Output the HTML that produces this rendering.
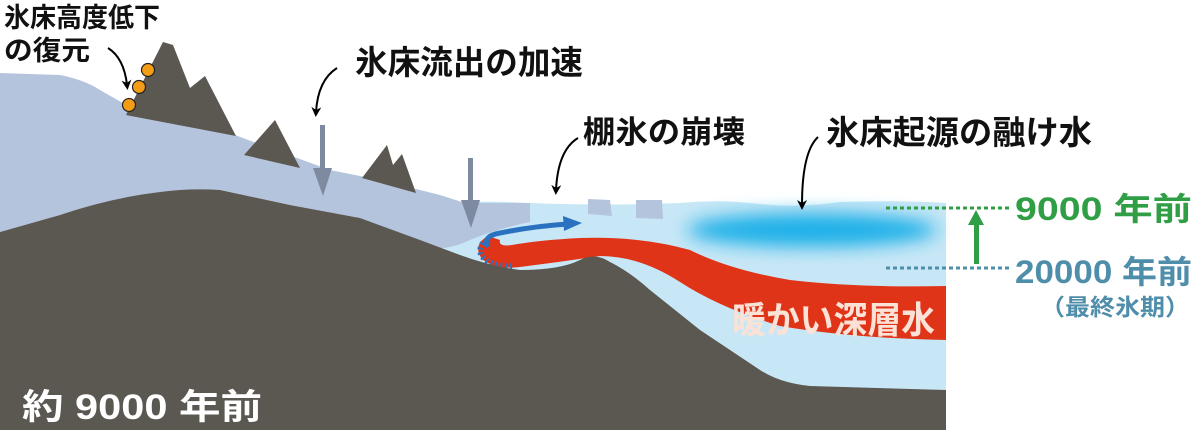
<!DOCTYPE html>
<html><head><meta charset="utf-8"><style>
html,body{margin:0;padding:0;background:#fff;}
svg{display:block;}
text{font-family:"Liberation Sans","Noto Sans CJK JP",sans-serif;font-weight:bold;}
</style></head><body>
<svg width="1200" height="430" viewBox="0 0 1200 430" xmlns="http://www.w3.org/2000/svg">
<defs>
<filter id="blur" x="-30%" y="-100%" width="160%" height="300%"><feGaussianBlur stdDeviation="9"/></filter>
<marker id="ah" markerWidth="10" markerHeight="10" refX="5" refY="5" orient="auto" markerUnits="userSpaceOnUse"><path d="M0,0 L10,5 L0,10 L3,5 Z" fill="#000"/></marker>
</defs>
<!-- ocean -->
<path d="M430,203 Q480,200 530,203 Q600,206 680,203 Q720,199 760,204 Q800,208 840,202 Q900,200 946,203 L946,400 L430,400 Z" fill="#c8e7f6"/>
<ellipse cx="812" cy="230" rx="125" ry="17" fill="#1fb0e8" filter="url(#blur)"/>
<!-- ice sheet -->
<path d="M0,73 L60,75 Q85,80 100,90 L135,110 L235,135 L275,150 L330,170 L380,180 L440,195 L465,203 L530,203 L530,222 Q500,228 470,240 Q450,250 430,248 L360,218 L290,205 L220,190 L160,192 L60,215 L0,232 Z" fill="#b5c4dd"/>
<path d="M588,199 L610,200 L612,216 L588,214 Z" fill="#b5c4dd"/>
<path d="M636,200 L662,200 L663,219 L636,218 Z" fill="#b5c4dd"/>
<!-- red warm water -->
<path d="M488,236 Q472,245 482,259 Q495,270 520,267 Q560,262 600,256 Q640,256 680,282 Q720,308 780,326 Q850,338 946,340 L946,286 Q860,288 790,280 Q730,270 690,250 Q640,236 580,238 Q540,240 512,245 Q498,247 500,240 Z" fill="#e03418"/>
<path d="M483,243 Q476,253 487,261 Q500,268 515,266" stroke="#2a72c0" stroke-width="6" fill="none" stroke-dasharray="2 3"/>
<path d="M488,247 Q482,236 500,233 Q535,226 568,224" stroke="#2a72c0" stroke-width="5" fill="none"/>
<path d="M563,216 L582,223 L564,231 Z" fill="#2a72c0"/>
<!-- bedrock -->
<path d="M0,232 L60,215 Q110,198 160,192 Q190,188 220,190 L290,205 L360,218 L420,240 L460,255 Q490,266 520,270 Q560,270 580,260 Q595,252 610,262 Q630,272 650,290 L700,330 L760,370 Q780,383 810,386 L946,390 L946,430 L0,430 Z" fill="#5b5851"/>
<!-- mountains -->
<path d="M126,115 L163,42 L173,45 L190,88 L205,76 L236,136 Z" fill="#5b5851"/>
<path d="M244,155 L275,120 L300,168 Z" fill="#5b5851"/>
<path d="M362,178 L387,145 L393,165 L402,154 L416,193 Z" fill="#5b5851"/>
<g fill="#f39c16" stroke="#222" stroke-width="1.2">
<circle cx="148" cy="70" r="6.5"/><circle cx="139" cy="87" r="6.5"/><circle cx="129" cy="105" r="6.5"/>
</g>
<rect x="320" y="125" width="5" height="45" fill="#7d8aa0"/><path d="M313,168 L332,168 L323,196 Z" fill="#7d8aa0"/>
<rect x="468" y="158" width="5" height="45" fill="#7d8aa0"/><path d="M461,200 L480,200 L471,228 Z" fill="#7d8aa0"/>
<g stroke="#000" stroke-width="2" fill="none" marker-end="url(#ah)">
<path d="M108,48 Q124,58 127,85"/>
<path d="M337,68 Q318,80 316,112"/>
<path d="M578,138 Q558,150 556,190"/>
<path d="M818,137 Q802,152 802,205"/>
</g>
<line x1="886" y1="208" x2="1012" y2="208" stroke="#2f9e45" stroke-width="3" stroke-dasharray="4 3"/>
<line x1="886" y1="268" x2="1012" y2="268" stroke="#4f8eaa" stroke-width="3" stroke-dasharray="4 3"/>
<rect x="974" y="222" width="5" height="42" fill="#2f9e45"/><path d="M968,225 L976,210 L984,225 Z" fill="#2f9e45"/>
<!-- labels -->
<text x="4" y="27" font-size="27" fill="#111" textLength="156" lengthAdjust="spacingAndGlyphs">氷床高度低下</text>
<text x="4" y="60" font-size="27" fill="#111" textLength="86" lengthAdjust="spacingAndGlyphs">の復元</text>
<text x="355" y="74" font-size="33" fill="#111" textLength="228" lengthAdjust="spacingAndGlyphs">氷床流出の加速</text>
<text x="583" y="143" font-size="31" fill="#111" textLength="162" lengthAdjust="spacingAndGlyphs">棚氷の崩壊</text>
<text x="826" y="144" font-size="33" fill="#111" textLength="266" lengthAdjust="spacingAndGlyphs">氷床起源の融け水</text>
<text x="1015" y="220" font-size="32" fill="#2f9e45" textLength="177" lengthAdjust="spacingAndGlyphs">9000 年前</text>
<text x="1015" y="283" font-size="32" fill="#4f8eaa" textLength="177" lengthAdjust="spacingAndGlyphs">20000 年前</text>
<text x="1040" y="315" font-size="23" fill="#4f8eaa" textLength="150" lengthAdjust="spacingAndGlyphs">（最終氷期）</text>
<text x="732" y="333" font-size="37" fill="#fbe2d6" textLength="203" lengthAdjust="spacingAndGlyphs">暖かい深層水</text>
<text x="22" y="419" font-size="35" fill="#fff" textLength="240" lengthAdjust="spacingAndGlyphs">約 9000 年前</text>
</svg>
</body></html>
